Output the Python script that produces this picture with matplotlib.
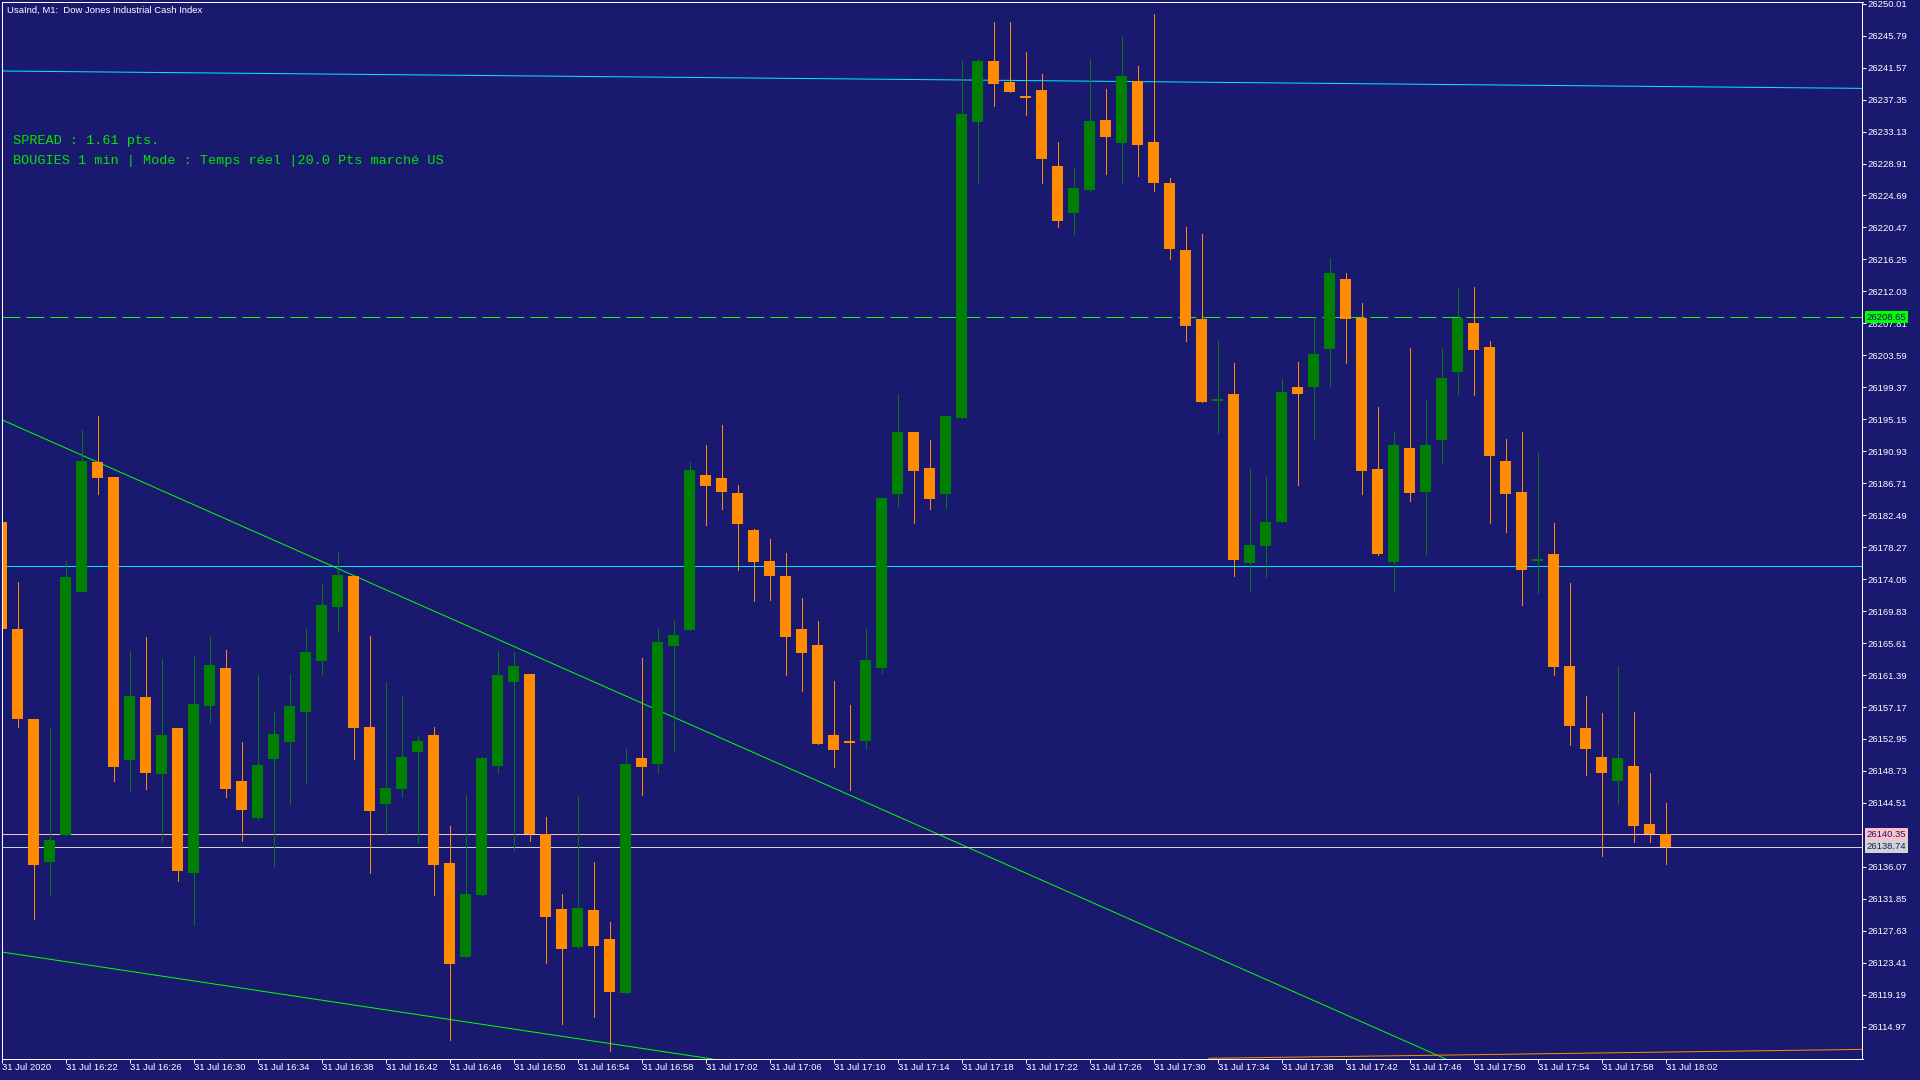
import matplotlib
matplotlib.use("Agg")
import matplotlib.pyplot as plt
import matplotlib.transforms as mtransforms
import numpy as np

# ---------------- data ----------------
# one-minute candles, 31 Jul 2020, 16:18 ... 18:02 (index 0..104)
opens = [26181.61, 26167.47, 26155.61, 26136.65, 26140.29, 26172.34, 26189.52, 26187.52, 26150.20, 26158.52,
         26148.34, 26154.43, 26135.29, 26157.29, 26162.34, 26147.43, 26142.52, 26150.34, 26152.56, 26156.56,
         26163.25, 26170.42, 26174.47, 26154.54, 26144.42, 26146.40, 26151.28, 26153.48, 26136.59, 26124.23,
         26132.41, 26149.44, 26160.52, 26161.53, 26140.42, 26130.52, 26125.55, 26130.36, 26126.49, 26119.42,
         26150.50, 26149.70, 26165.28, 26167.36, 26187.80, 26187.40, 26185.42, 26180.56, 26176.49, 26174.50,
         26167.51, 26165.38, 26153.52, 26152.50, 26152.63, 26162.30, 26185.33, 26193.47, 26188.72, 26185.33,
         26195.36, 26234.43, 26242.44, 26239.67, 26237.65, 26238.61, 26228.58, 26222.42, 26225.46, 26234.65,
         26231.66, 26239.80, 26231.75, 26226.40, 26217.50, 26208.39, 26197.55, 26198.49, 26176.23, 26178.43,
         26181.64, 26199.42, 26199.42, 26204.43, 26213.67, 26208.53, 26188.60, 26176.32, 26191.37, 26185.60,
         26192.47, 26201.42, 26207.88, 26204.70, 26189.66, 26185.59, 26176.45, 26177.39, 26162.60, 26154.40,
         26150.58, 26147.35, 26149.39, 26141.74, 26140.40]
highs = [26182.30, 26173.70, 26155.61, 26154.52, 26176.47, 26193.75, 26195.61, 26187.52, 26164.56, 26166.43,
         26163.52, 26154.43, 26163.79, 26166.56, 26164.70, 26152.56, 26161.38, 26156.65, 26161.52, 26167.47,
         26173.54, 26177.50, 26174.47, 26166.55, 26160.48, 26158.50, 26153.35, 26154.54, 26141.47, 26145.56,
         26150.58, 26164.57, 26164.44, 26161.53, 26142.66, 26132.50, 26145.43, 26136.66, 26128.77, 26151.69,
         26163.69, 26167.51, 26168.70, 26189.53, 26191.77, 26194.40, 26186.51, 26180.71, 26179.37, 26177.53,
         26171.58, 26168.55, 26160.67, 26157.49, 26167.51, 26184.76, 26198.49, 26193.47, 26192.42, 26195.58,
         26242.44, 26242.70, 26247.59, 26247.59, 26243.63, 26240.72, 26231.75, 26228.45, 26242.70, 26238.74,
         26245.74, 26241.78, 26248.64, 26227.00, 26220.50, 26219.61, 26205.62, 26202.59, 26188.60, 26187.54,
         26200.47, 26202.72, 26208.61, 26216.44, 26214.46, 26210.51, 26196.78, 26193.48, 26204.57, 26197.57,
         26204.57, 26212.50, 26212.60, 26205.50, 26192.54, 26193.48, 26190.70, 26181.46, 26173.57, 26158.62,
         26156.39, 26162.60, 26156.54, 26148.50, 26144.52]
lows = [26167.30, 26154.47, 26129.25, 26132.38, 26140.29, 26172.34, 26185.34, 26147.34, 26146.25, 26146.34,
        26139.52, 26134.20, 26128.43, 26155.20, 26145.29, 26139.47, 26142.29, 26136.20, 26144.38, 26147.32,
        26161.40, 26167.25, 26150.32, 26135.31, 26140.33, 26145.34, 26139.27, 26132.41, 26113.27, 26124.23,
        26132.41, 26148.51, 26138.26, 26139.54, 26123.43, 26115.38, 26125.40, 26116.30, 26111.73, 26119.42,
        26145.54, 26148.46, 26151.34, 26167.36, 26181.20, 26183.33, 26175.30, 26171.18, 26171.33, 26161.46,
        26159.33, 26152.33, 26149.31, 26146.28, 26151.59, 26161.60, 26183.62, 26181.50, 26183.35, 26183.49,
        26195.36, 26226.51, 26236.54, 26238.39, 26235.36, 26226.38, 26220.57, 26219.52, 26225.32, 26227.57,
        26226.51, 26227.30, 26225.32, 26216.36, 26205.53, 26197.44, 26193.39, 26174.52, 26172.67, 26174.39,
        26181.64, 26186.53, 26192.42, 26199.55, 26202.59, 26185.30, 26177.25, 26172.67, 26184.42, 26177.29,
        26189.43, 26198.40, 26198.30, 26181.41, 26180.32, 26170.69, 26172.28, 26161.36, 26152.22, 26148.25,
        26137.52, 26144.42, 26139.41, 26139.31, 26136.43]
closes = [26167.47, 26155.61, 26136.34, 26139.61, 26174.34, 26189.65, 26187.43, 26149.25, 26158.65, 26148.47,
          26153.47, 26135.52, 26157.56, 26162.75, 26146.34, 26143.56, 26149.52, 26153.61, 26157.29, 26164.44,
          26170.64, 26174.60, 26154.45, 26143.50, 26146.49, 26150.58, 26152.69, 26136.37, 26123.30, 26132.50,
          26150.45, 26161.40, 26162.59, 26140.42, 26129.51, 26125.28, 26130.65, 26125.60, 26119.60, 26149.70,
          26149.31, 26165.78, 26166.72, 26188.49, 26186.36, 26185.57, 26181.35, 26176.34, 26174.50, 26166.47,
          26164.34, 26152.33, 26151.54, 26152.36, 26163.44, 26184.76, 26193.47, 26188.37, 26184.63, 26195.58,
          26235.44, 26242.44, 26239.45, 26238.39, 26237.55, 26229.55, 26221.37, 26225.68, 26234.52, 26232.45,
          26240.46, 26231.40, 26226.38, 26217.68, 26207.51, 26197.44, 26197.65, 26176.63, 26178.56, 26181.60,
          26198.76, 26198.49, 26203.77, 26214.46, 26208.39, 26188.33, 26177.38, 26191.76, 26185.47, 26191.76,
          26200.61, 26208.53, 26204.35, 26190.35, 26185.34, 26175.31, 26176.55, 26162.50, 26154.60, 26151.57,
          26148.40, 26150.48, 26141.40, 26140.40, 26138.74]

x_tick_pos = [0, 4, 8, 12, 16, 20, 24, 28, 32, 36, 40, 44, 48, 52, 56, 60, 64, 68, 72, 76, 80, 84, 88, 92, 96, 100, 104]
x_tick_labels = ["31 Jul 2020", "31 Jul 16:22", "31 Jul 16:26", "31 Jul 16:30", "31 Jul 16:34", "31 Jul 16:38",
                 "31 Jul 16:42", "31 Jul 16:46", "31 Jul 16:50", "31 Jul 16:54", "31 Jul 16:58", "31 Jul 17:02",
                 "31 Jul 17:06", "31 Jul 17:10", "31 Jul 17:14", "31 Jul 17:18", "31 Jul 17:22", "31 Jul 17:26",
                 "31 Jul 17:30", "31 Jul 17:34", "31 Jul 17:38", "31 Jul 17:42", "31 Jul 17:46", "31 Jul 17:50",
                 "31 Jul 17:54", "31 Jul 17:58", "31 Jul 18:02"]
y_ticks = [26250.01, 26245.79, 26241.57, 26237.35, 26233.13, 26228.91, 26224.69, 26220.47, 26216.25,
           26212.03, 26207.81, 26203.59, 26199.37, 26195.15, 26190.93, 26186.71, 26182.49, 26178.27,
           26174.05, 26169.83, 26165.61, 26161.39, 26157.17, 26152.95, 26148.73, 26144.51, 26136.07,
           26131.85, 26127.63, 26123.41, 26119.19, 26114.97]

# objects drawn on the chart (anchor points: bar index, price)
trend_green_a = ([0, 90], [26195.08, 26110.93])
trend_green_b = ([0, 40], [26124.83, 26112.11])
trend_cyan_top = ([0, 116.25], [26241.12, 26238.83])
trend_orange_bottom = ([75.4, 116.25], [26110.80, 26111.98])
hline_cyan = 26175.80
hline_dashed = 26208.65
ask_price = 26140.35
bid_price = 26138.74

title_text = "UsaInd, M1:  Dow Jones Industrial Cash Index"
info_lines = ["SPREAD : 1.61 pts.", "BOUGIES 1 min | Mode : Temps réel |20.0 Pts marché US"]

# ---------------- style ----------------
BG = "#191970"
BULL = "#008000"
BEAR = "#ff8c00"
W, H = 1920, 1080
PX = 72 / 100.0  # points per pixel

fig = plt.figure(figsize=(W / 100, H / 100), dpi=100, facecolor=BG)
ax_left, ax_right, ax_top, ax_bot = 1.5, 1862.5, 2.0, 1059.0
ax = fig.add_axes([ax_left / W, (H - ax_bot) / H, (ax_right - ax_left) / W, (ax_bot - ax_top) / H])
ax.set_facecolor(BG)
ax.set_xlim(-0.03, (ax_right - ax_left) / 16.0 - 0.03)
ax.set_ylim(26110.71, 26250.23)

n = len(opens)
xs = np.arange(n)
o = np.array(opens); c = np.array(closes); hi = np.array(highs); lo = np.array(lows)
bull = c > o
cols = np.where(bull, BULL, BEAR)

# objects (behind candles)
def draw_ray(pts, color):
    ax.axline((pts[0][0], pts[1][0]), (pts[0][1], pts[1][1]), color=color, lw=1.0 * PX, zorder=1)

draw_ray(trend_green_a, "#00ff00")
draw_ray(trend_green_b, "#00ff00")
draw_ray(trend_cyan_top, "#00e8ff")
ax.plot(trend_orange_bottom[0], trend_orange_bottom[1], color="#ff8c00", lw=1.0 * PX, zorder=6,
        clip_on=False, solid_capstyle="butt")
ax.axhline(hline_cyan, color="#00e8ff", lw=1.0 * PX, zorder=1)
ax.axhline(hline_dashed, color="#22ee22", lw=1.0 * PX, zorder=1, dashes=(18, 6))
ax.axhline(ask_price, color="#ffc0cb", lw=1.0 * PX, zorder=1)
ax.axhline(bid_price, color="#d3d3d3", lw=1.0 * PX, zorder=1)

# candles
ax.vlines(xs, lo, hi, colors=cols, lw=1.0 * PX, zorder=2, antialiased=False)
body_bottom = np.minimum(o, c)
body_h = np.maximum(np.abs(c - o), 0.27)
ax.bar(xs, body_h, bottom=body_bottom, width=11 / 16.0, color=cols, linewidth=0, zorder=3, antialiased=False)

# frame
for s in ax.spines.values():
    s.set_color("white")
    s.set_linewidth(1.0 * PX)
    s.set_zorder(5)

# ticks
ax.yaxis.tick_right()
ax.set_yticks(y_ticks)
ax.set_yticklabels([f"{v:.2f}" for v in y_ticks])
ax.set_xticks(x_tick_pos)
ax.set_xticklabels(x_tick_labels)
ax.tick_params(axis="y", direction="out", length=4 * PX, width=1.0 * PX, color="white",
               labelcolor="white", labelsize=6.8, pad=1.0 * PX)
ax.tick_params(axis="x", direction="out", length=4 * PX, width=1.0 * PX, color="white",
               labelcolor="white", labelsize=6.8, pad=0.3)
for lbl in ax.get_xticklabels():
    lbl.set_horizontalalignment("left")
    lbl.set_fontfamily("Liberation Sans")
for lbl in ax.get_yticklabels():
    lbl.set_fontfamily("Liberation Sans")

# price labels on the axis
blend = mtransforms.blended_transform_factory(ax.transAxes, ax.transData)
xlab = 1.0 + 4.0 / (ax_right - ax_left)
for price, fc, tc in [(hline_dashed, "#00ff00", "#101060"), (ask_price, "#ffc0cb", "#191970"),
                      (bid_price, "#d3d3d3", "#191970")]:
    ax.text(xlab, price, f"{price:.2f}", transform=blend, ha="left", va="center", fontsize=6.8,
            family="Liberation Sans", color=tc, zorder=10, clip_on=False,
            bbox=dict(boxstyle="square,pad=0.18", fc=fc, ec="none"))

# texts
fig.text(6.7 / W, 1 - 12.7 / H, title_text, color="white", fontsize=6.8, family="Liberation Sans",
         ha="left", va="baseline")
fig.text(13.3 / W, 1 - 144 / H, info_lines[0], color="#00e600", fontsize=9.7, family="Liberation Mono",
         ha="left", va="baseline")
fig.text(13.3 / W, 1 - 164 / H, info_lines[1], color="#00e600", fontsize=9.7, family="Liberation Mono",
         ha="left", va="baseline")

fig.savefig("out.png", dpi=100, facecolor=BG)
